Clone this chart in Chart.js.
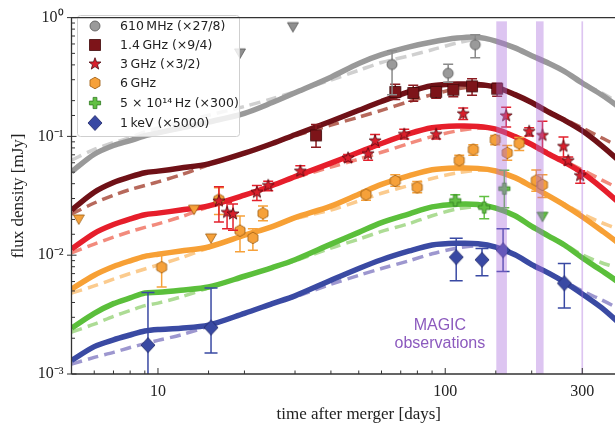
<!DOCTYPE html>
<html>
<head>
<meta charset="utf-8">
<script src="https://cdn.jsdelivr.net/npm/chart.js@4.4.1/dist/chart.umd.min.js"></script>
<style>
  html, body { margin: 0; padding: 0; background: #fff; overflow: hidden; }
  #wrap { width: 615px; height: 434px; overflow: hidden; }
</style>
</head>
<body>
<div id="wrap"><canvas id="chart" width="660" height="434"></canvas></div>
<script>
// model light curves (mJy), sampled at modelT (days)
const modelT = [5, 6, 7, 8, 9, 10, 12, 15, 20, 25, 30, 40, 50, 60, 75, 90, 110, 130, 150, 175, 200, 230, 260, 300, 350, 400, 430];

const grayModel = [0.0503, 0.0707, 0.0838, 0.0921, 0.1013, 0.1072, 0.1178, 0.1320, 0.1565, 0.1927, 0.2329, 0.3152, 0.4109, 0.4872, 0.5667, 0.6229, 0.6721, 0.6849, 0.6348, 0.5561, 0.4780, 0.4109, 0.3532, 0.2813, 0.2242, 0.1787, 0.1565];
const grayAlt = [0.0631, 0.0777, 0.0887, 0.0975, 0.1093, 0.1178, 0.1319, 0.1507, 0.1787, 0.2079, 0.2373, 0.2979, 0.3600, 0.4190, 0.4777, 0.5357, 0.6116, 0.6596, 0.6348, 0.5561, 0.4780, 0.4109, 0.3532, 0.2813, 0.2329, 0.1928, 0.1720];

const darkRedModel = [0.0240, 0.0339, 0.0409, 0.0456, 0.0494, 0.0510, 0.0541, 0.0587, 0.0722, 0.0871, 0.1033, 0.1342, 0.1658, 0.1967, 0.2378, 0.2667, 0.2759, 0.2739, 0.2601, 0.2247, 0.1929, 0.1597, 0.1369, 0.1114, 0.0837, 0.0632, 0.0532];
const darkRedAlt = [0.0222, 0.0275, 0.0320, 0.0357, 0.0386, 0.0414, 0.0474, 0.0576, 0.0722, 0.0871, 0.1013, 0.1244, 0.1452, 0.1658, 0.1969, 0.2248, 0.2511, 0.2638, 0.2601, 0.2247, 0.1929, 0.1597, 0.1395, 0.1180, 0.0973, 0.0824, 0.0734];

const redModel = [0.01126, 0.01530, 0.01812, 0.0202, 0.0219, 0.0226, 0.0240, 0.0260, 0.0320, 0.0386, 0.0458, 0.0595, 0.0735, 0.0872, 0.1054, 0.1182, 0.1223, 0.1214, 0.1153, 0.0996, 0.0855, 0.0708, 0.0607, 0.0494, 0.0371, 0.0280, 0.0236];
const redAlt = [0.01044, 0.01242, 0.01417, 0.01580, 0.01713, 0.01835, 0.0210, 0.0255, 0.0320, 0.0386, 0.0449, 0.0552, 0.0644, 0.0735, 0.0873, 0.0996, 0.1113, 0.1169, 0.1153, 0.0996, 0.0855, 0.0708, 0.0619, 0.0523, 0.0431, 0.0365, 0.0326];

const orangeModel = [5.18e-3, 6.78e-3, 8.03e-3, 8.97e-3, 9.78e-3, 1.019e-2, 1.083e-2, 1.173e-2, 1.472e-2, 1.742e-2, 2.07e-2, 2.59e-2, 3.26e-2, 3.94e-2, 4.67e-2, 5.24e-2, 5.42e-2, 5.38e-2, 5.11e-2, 4.50e-2, 3.79e-2, 3.14e-2, 2.64e-2, 2.11e-2, 1.615e-2, 1.264e-2, 1.066e-2];
const orangeAlt = [4.80e-3, 5.51e-3, 6.28e-3, 7.01e-3, 7.65e-3, 8.27e-3, 9.49e-3, 1.151e-2, 1.472e-2, 1.742e-2, 2.03e-2, 2.40e-2, 2.86e-2, 3.32e-2, 3.87e-2, 4.42e-2, 4.93e-2, 5.18e-2, 5.11e-2, 4.50e-2, 3.79e-2, 3.14e-2, 2.69e-2, 2.23e-2, 1.878e-2, 1.647e-2, 1.471e-2];

const greenModel = [2.43e-3, 3.24e-3, 3.91e-3, 4.37e-3, 4.81e-3, 4.87e-3, 5.08e-3, 5.40e-3, 6.65e-3, 7.87e-3, 9.16e-3, 1.239e-2, 1.557e-2, 1.881e-2, 2.23e-2, 2.55e-2, 2.69e-2, 2.67e-2, 2.49e-2, 2.15e-2, 1.745e-2, 1.443e-2, 1.217e-2, 9.51e-3, 7.43e-3, 5.93e-3, 5.0e-3];
const greenAlt = [2.25e-3, 2.63e-3, 3.06e-3, 3.42e-3, 3.76e-3, 3.95e-3, 4.45e-3, 5.30e-3, 6.65e-3, 7.87e-3, 8.99e-3, 1.149e-2, 1.364e-2, 1.586e-2, 1.846e-2, 2.15e-2, 2.45e-2, 2.57e-2, 2.49e-2, 2.15e-2, 1.745e-2, 1.443e-2, 1.240e-2, 1.007e-2, 8.64e-3, 7.73e-3, 6.90e-3];

const blueModel = [1.30e-3, 1.70e-3, 1.94e-3, 2.13e-3, 2.30e-3, 2.37e-3, 2.43e-3, 2.58e-3, 3.24e-3, 3.91e-3, 4.55e-3, 6.15e-3, 7.73e-3, 9.16e-3, 1.086e-2, 1.22e-2, 1.26e-2, 1.25e-2, 1.17e-2, 1.007e-2, 8.34e-3, 7.03e-3, 5.93e-3, 4.72e-3, 3.62e-3, 2.73e-3, 2.30e-3];
const blueAlt = [1.21e-3, 1.38e-3, 1.52e-3, 1.67e-3, 1.80e-3, 1.92e-3, 2.13e-3, 2.53e-3, 3.24e-3, 3.91e-3, 4.46e-3, 5.70e-3, 6.77e-3, 7.72e-3, 8.99e-3, 1.028e-2, 1.147e-2, 1.204e-2, 1.17e-2, 1.007e-2, 8.34e-3, 7.03e-3, 6.04e-3, 5.00e-3, 4.21e-3, 3.56e-3, 3.17e-3];

// measurements: time, flux, lower / upper end of error bar
const mhz610T = [65.3, 102.4, 127.2];
const mhz610F = [0.403, 0.340, 0.592];
const mhz610Lo = [0.224, 0.286, 0.460];
const mhz610Hi = [0.525, 0.404, 0.716];
const mhz610UlT = [19.3, 29.5];
const mhz610UlF = [0.505, 0.84];

const ghz14T = [35.5, 67, 77.4, 93, 106.7, 124, 151.6];
const ghz14F = [0.102, 0.237, 0.232, 0.237, 0.247, 0.264, 0.252];
const ghz14Lo = [0.081, 0.204, 0.198, 0.209, 0.216, 0.222, 0.218];
const ghz14Hi = [0.126, 0.275, 0.270, 0.260, 0.277, 0.305, 0.280];

const ghz3T = [16.3, 17.4, 18.25, 22.1, 24.2, 31.3, 45.9, 53.9, 57, 72, 93, 115.5, 163, 196, 218, 258, 268, 295];
const ghz3F = [0.0285, 0.0229, 0.0222, 0.0338, 0.0386, 0.0510, 0.0657, 0.0714, 0.0918, 0.104, 0.104, 0.155, 0.149, 0.110, 0.102, 0.0824, 0.0625, 0.0467];
const ghz3Lo = [0.0190, 0.0167, 0.0162, 0.0289, 0.0349, 0.0473, 0.0611, 0.0630, 0.081, 0.095, 0.095, 0.139, 0.120, 0.101, 0.076, 0.067, 0.0574, 0.0403];
const ghz3Hi = [0.0377, 0.0277, 0.0270, 0.0386, 0.0419, 0.0565, 0.0703, 0.0787, 0.104, 0.115, 0.115, 0.173, 0.176, 0.1185, 0.134, 0.099, 0.067, 0.0513];

const ghz6T = [10.3, 16.3, 19.3, 21.4, 23.2, 53, 67, 79.9, 111.9, 125.2, 149.3, 164.4, 181, 207.5, 218];
const ghz6F = [7.92e-3, 0.0294, 0.0161, 0.0140, 0.0225, 0.0324, 0.0422, 0.0372, 0.0629, 0.0774, 0.0936, 0.0727, 0.0873, 0.0425, 0.0391];
const ghz6Lo = [5.4e-3, 0.022, 0.0107, 0.0110, 0.0195, 0.0290, 0.0381, 0.0336, 0.0574, 0.0694, 0.085, 0.0631, 0.0762, 0.0346, 0.0306];
const ghz6Hi = [1.04e-2, 0.037, 0.0214, 0.0167, 0.026, 0.0351, 0.0475, 0.0418, 0.0694, 0.0849, 0.102, 0.0838, 0.098, 0.0522, 0.0475];
const ghz6UlT = [5.3, 13.35, 15.3];
const ghz6UlF = [0.0202, 0.0244, 0.0140];

const optT = [108.4, 136.7, 160.6];
const optF = [0.0289, 0.0252, 0.0363];
const optLo = [0.026, 0.0203, 0.0251];
const optHi = [0.0323, 0.0312, 0.052];
const optUlT = [218];
const optUlF = [0.0213];

const xrayT = [9.23, 15.3, 109.2, 134.3, 159, 259.8];
const xrayF = [1.75e-3, 2.46e-3, 9.63e-3, 9.15e-3, 1.10e-2, 5.8e-3];
const xrayLo = [5e-4, 1.5e-3, 6.1e-3, 6.7e-3, 7.3e-3, 3.6e-3];
const xrayHi = [4.85e-3, 5.3e-3, 1.39e-2, 1.14e-2, 1.67e-2, 8.5e-3];

// MAGIC observing windows (days)
const magicStart = [150.6, 207, 298];
const magicEnd = [164, 220, 302];
const magicTop = 0.93;

const xTickLabels = [10, 100, 300];
const yTickValues = [0.001, 0.01, 0.1, 1];
const yTickLabels = ['10\u207B\u00B3', '10\u207B\u00B2', '10\u207B\u00B9', '10\u2070'];

const legendLabels = [
  '610\u2009MHz (\u00D727/8)',
  '1.4\u2009GHz (\u00D79/4)',
  '3\u2009GHz (\u00D73/2)',
  '6\u2009GHz',
  '5 \u00D7 10\u00B9\u2074\u2009Hz (\u00D7300)',
  '1\u2009keV (\u00D75000)'
];

function marker(shape, fill, edge) {
  const c = document.createElement('canvas');
  c.width = 18; c.height = 18;
  const g = c.getContext('2d');
  g.translate(9, 9);
  g.beginPath();
  if (shape === 'circle') {
    g.arc(0, 0, 5, 0, Math.PI * 2);
  } else if (shape === 'square') {
    g.rect(-5.5, -5.5, 11, 11);
  } else if (shape === 'star') {
    for (let i = 0; i < 10; i++) {
      const r = i % 2 ? 2.6 : 6.3;
      const a = -Math.PI / 2 + i * Math.PI / 5;
      g.lineTo(r * Math.cos(a), r * Math.sin(a));
    }
    g.closePath();
  } else if (shape === 'hex') {
    for (let i = 0; i < 6; i++) {
      const a = -Math.PI / 2 + i * Math.PI / 3;
      g.lineTo(5.8 * Math.cos(a), 5.8 * Math.sin(a));
    }
    g.closePath();
  } else if (shape === 'plus') {
    const a = 1.9, b = 5.6;
    [[-a, -b], [a, -b], [a, -a], [b, -a], [b, a], [a, a], [a, b], [-a, b], [-a, a], [-b, a], [-b, -a], [-a, -a]]
      .forEach(p => g.lineTo(p[0], p[1]));
    g.closePath();
  } else if (shape === 'diamond') {
    g.moveTo(0, -7.5); g.lineTo(7, 0); g.lineTo(0, 7.5); g.lineTo(-7, 0); g.closePath();
  } else if (shape === 'down') {
    g.moveTo(-5.5, -4); g.lineTo(5.5, -4); g.lineTo(0, 5.5); g.closePath();
  }
  g.fillStyle = fill; g.fill();
  g.lineWidth = 0.8; g.strokeStyle = edge; g.stroke();
  return c;
}

const mk = {
  gray: marker('circle', '#9a9a9a', '#555'),
  grayUl: marker('down', '#8f8f8f', '#555'),
  dred: marker('square', '#7d1419', '#3d0608'),
  red: marker('star', '#d91f2c', '#4a080e'),
  orange: marker('hex', '#f6a13a', '#9a5a10'),
  orangeUl: marker('down', '#f6a13a', '#9a5a10'),
  green: marker('plus', '#62c043', '#2f7a1f'),
  greenUl: marker('down', '#62c043', '#2f7a1f'),
  blue: marker('diamond', '#3949a3', '#1c2566')
};

const pts = (t, f) => t.map((v, i) => ({ x: v, y: f[i] }));

function curve(f, color, dashed) {
  return {
    data: pts(modelT, f),
    showLine: true,
    borderColor: color,
    borderWidth: dashed ? 3.5 : 5.5,
    borderDash: dashed ? [11, 6] : [],
    pointRadius: 0,
    tension: 0.3,
    fill: false,
    order: dashed ? 2 : 1
  };
}

function points(t, f, style, barColor, lo, hi, cap) {
  return {
    data: pts(t, f),
    pointStyle: style,
    pointRadius: 6,
    showLine: false,
    order: 0,
    lo: lo, hi: hi, barColor: barColor, cap: cap || 5
  };
}

const decorations = {
  id: 'decorations',
  beforeDraw(chart) {
    const ctx = chart.ctx;
    ctx.save();
    ctx.fillStyle = '#fff';
    ctx.fillRect(0, 0, chart.width, chart.height);
    ctx.restore();
  },
  beforeDatasetDraw(chart, args) {
    const ds = chart.data.datasets[args.index];
    if (!ds.lo) return;
    const { ctx, chartArea: a, scales: { x, y } } = chart;
    ctx.save();
    ctx.beginPath();
    ctx.rect(a.left, a.top, a.right - a.left, a.bottom - a.top);
    ctx.clip();
    ctx.strokeStyle = ds.barColor;
    ctx.lineWidth = 1.5;
    ds.data.forEach((p, i) => {
      const px = x.getPixelForValue(p.x);
      const y0 = y.getPixelForValue(ds.lo[i]);
      const y1 = y.getPixelForValue(ds.hi[i]);
      ctx.beginPath();
      ctx.moveTo(px, y0); ctx.lineTo(px, y1);
      ctx.moveTo(px - ds.cap, y0); ctx.lineTo(px + ds.cap, y0);
      ctx.moveTo(px - ds.cap, y1); ctx.lineTo(px + ds.cap, y1);
      ctx.stroke();
    });
    ctx.restore();
  },
  afterDatasetsDraw(chart) {
    const { ctx, chartArea: a, scales: { x, y } } = chart;
    ctx.save();
    // MAGIC windows
    ctx.fillStyle = 'rgba(170, 110, 220, 0.4)';
    const yTop = y.getPixelForValue(magicTop);
    magicStart.forEach((s, i) => {
      const x0 = x.getPixelForValue(s), x1 = x.getPixelForValue(magicEnd[i]);
      ctx.fillRect(x0, yTop, x1 - x0, a.bottom - yTop);
    });
    ctx.fillStyle = '#8c5abe';
    ctx.font = '16px "Liberation Sans", Arial, sans-serif';
    ctx.textAlign = 'center';
    ctx.textBaseline = 'middle';
    ctx.fillText('MAGIC', x.getPixelForValue(95.8), y.getPixelForValue(2.58e-3));
    ctx.fillText('observations', x.getPixelForValue(95.8), y.getPixelForValue(1.80e-3));

    // legend box
    const bx = 77.5, by = 15.5, bw = 162, bh = 121, r = 3;
    ctx.beginPath();
    ctx.moveTo(bx + r, by);
    ctx.arcTo(bx + bw, by, bx + bw, by + bh, r);
    ctx.arcTo(bx + bw, by + bh, bx, by + bh, r);
    ctx.arcTo(bx, by + bh, bx, by, r);
    ctx.arcTo(bx, by, bx + bw, by, r);
    ctx.closePath();
    ctx.fillStyle = 'rgba(255,255,255,0.82)';
    ctx.fill();
    ctx.strokeStyle = '#cfcfcf';
    ctx.lineWidth = 1;
    ctx.stroke();
    const icons = [mk.gray, mk.dred, mk.red, mk.orange, mk.green, mk.blue];
    const rows = [26, 45, 64, 83, 103, 123];
    ctx.font = '12.5px "DejaVu Sans", sans-serif';
    ctx.textAlign = 'left';
    ctx.fillStyle = '#222';
    legendLabels.forEach((txt, i) => {
      ctx.drawImage(icons[i], 95 - 9, rows[i] - 9);
      ctx.fillText(txt, 120, rows[i] + 1);
    });
    ctx.restore();
  },
  afterDraw(chart) {
    const { ctx, chartArea: a, scales: { x, y } } = chart;
    ctx.save();
    ctx.strokeStyle = '#333';
    ctx.lineWidth = 1.3;
    ctx.beginPath();
    ctx.moveTo(a.left, a.top); ctx.lineTo(a.right, a.top);
    ctx.moveTo(a.left, a.top); ctx.lineTo(a.left, a.bottom);
    ctx.moveTo(a.left, a.bottom); ctx.lineTo(a.right, a.bottom);
    ctx.stroke();
    ctx.lineWidth = 1;
    ctx.beginPath();
    x.ticks.forEach(t => {
      const px = x.getPixelForValue(t.value);
      if (px < a.left + 1 || px > a.right - 1) return;
      const len = xTickLabels.includes(t.value) ? 6 : 3.5;
      ctx.moveTo(px, a.bottom); ctx.lineTo(px, a.bottom - len);
    });
    y.ticks.forEach(t => {
      const py = y.getPixelForValue(t.value);
      const major = yTickValues.some(v => Math.abs(v - t.value) / v < 1e-6);
      if (major) { ctx.moveTo(a.left - 4.5, py); ctx.lineTo(a.left + 5, py); }
      else { ctx.moveTo(a.left, py); ctx.lineTo(a.left + 3.5, py); }
    });
    ctx.stroke();
    ctx.restore();
  }
};

const serif = '"Liberation Serif", "Times New Roman", serif';

new Chart(document.getElementById('chart'), {
  type: 'scatter',
  data: {
    datasets: [
      points(mhz610T, mhz610F, mk.gray, '#8a8a8a', mhz610Lo, mhz610Hi),
      points(mhz610UlT, mhz610UlF, mk.grayUl),
      points(ghz14T, ghz14F, mk.dred, '#8b1b20', ghz14Lo, ghz14Hi),
      points(ghz3T, ghz3F, mk.red, '#e3202c', ghz3Lo, ghz3Hi),
      points(ghz6T, ghz6F, mk.orange, '#f6a13a', ghz6Lo, ghz6Hi),
      points(ghz6UlT, ghz6UlF, mk.orangeUl),
      points(optT, optF, mk.green, '#62c043', optLo, optHi),
      points(optUlT, optUlF, mk.greenUl),
      points(xrayT, xrayF, mk.blue, '#3949a3', xrayLo, xrayHi, 6.5),
      curve(grayModel, '#999999', false),
      curve(darkRedModel, '#6f1117', false),
      curve(redModel, '#e61e2b', false),
      curve(orangeModel, '#f7a035', false),
      curve(greenModel, '#5bbf3b', false),
      curve(blueModel, '#3a4aa3', false),
      curve(grayAlt, '#d0d0d0', true),
      curve(darkRedAlt, '#b7695c', true),
      curve(redAlt, '#f28b7d', true),
      curve(orangeAlt, '#fbcb8e', true),
      curve(greenAlt, '#addc95', true),
      curve(blueAlt, '#9d97cf', true)
    ]
  },
  options: {
    responsive: false,
    animation: false,
    devicePixelRatio: 1,
    layout: { padding: { top: 9, right: 14, left: 0, bottom: 0 } },
    plugins: { legend: { display: false }, tooltip: { enabled: false } },
    scales: {
      x: {
        type: 'logarithmic',
        min: 5,
        max: 500,
        grid: { display: false, drawTicks: false },
        border: { display: false },
        ticks: {
          autoSkip: false,
          maxRotation: 0,
          padding: 8,
          color: '#222',
          font: { family: serif, size: 16 },
          callback: v => xTickLabels.includes(v) ? String(v) : ''
        },
        title: {
          display: true,
          text: 'time after merger [days]',
          color: '#222',
          font: { family: serif, size: 17 },
          padding: { top: 0, bottom: 9 }
        },
        afterFit: s => { s.height = 60; }
      },
      y: {
        type: 'logarithmic',
        min: 1e-3,
        max: 1,
        grid: { display: false, drawTicks: false },
        border: { display: false },
        ticks: {
          autoSkip: false,
          padding: 8,
          color: '#222',
          font: { family: serif, size: 16 },
          callback: v => {
            const i = yTickValues.findIndex(t => Math.abs(t - v) / t < 1e-6);
            return i >= 0 ? yTickLabels[i] : '';
          }
        },
        title: {
          display: true,
          text: 'flux density [mJy]',
          color: '#222',
          font: { family: serif, size: 17 },
          padding: { top: 8, bottom: 0 }
        },
        afterFit: s => { s.width = 71.5; }
      }
    }
  },
  plugins: [decorations]
});
</script>
</body>
</html>
